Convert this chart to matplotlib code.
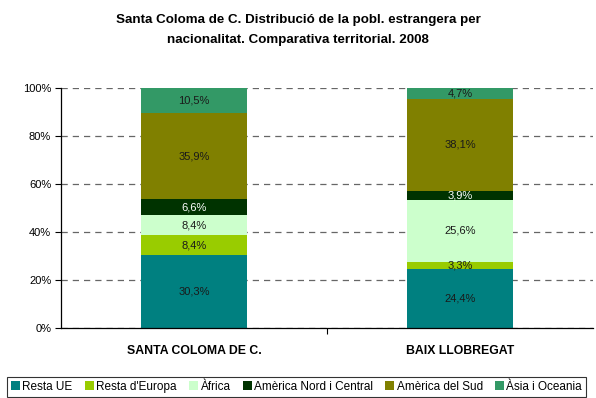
import numpy as np
import matplotlib
matplotlib.use("Agg")
import matplotlib.pyplot as plt
from matplotlib.patches import Patch

plt.rcParams["font.family"] = ["Liberation Sans", "DejaVu Sans"]

# percentatges per nacionalitat
territoris = ["SANTA COLOMA DE C.", "BAIX LLOBREGAT"]
grups = ["Resta UE", "Resta d'Europa", "Àfrica", "Amèrica Nord i Central",
         "Amèrica del Sud", "Àsia i Oceania"]
santa_coloma = [30.3, 8.4, 8.4, 6.6, 35.9, 10.5]
baix_llobregat = [24.4, 3.3, 25.6, 3.9, 38.1, 4.7]
colors = ["#008080", "#99CC00", "#CCFFCC", "#003300", "#808000", "#339966"]
text_colors = ["#1a1a1a", "#1a1a1a", "#1a1a1a", "#ffffff", "#1a1a1a", "#1a1a1a"]

valors = np.array([santa_coloma, baix_llobregat])
# barres al 100%
quota = valors / valors.sum(axis=1, keepdims=True) * 100

fig = plt.figure(figsize=(5.96, 3.98), dpi=100)
ax = fig.add_axes([0.1023, 0.1759, 0.8927, 0.603])

x = np.arange(len(territoris))
base = np.zeros(len(territoris))
for i, grup in enumerate(grups):
    ax.bar(x, quota[:, i], bottom=base, width=0.4, color=colors[i], label=grup,
           zorder=2)
    for j in range(len(territoris)):
        ax.text(x[j], base[j] + quota[j, i] / 2, f"{valors[j, i]:.1f}%".replace(".", ","),
                ha="center", va="center", fontsize=8, color=text_colors[i], zorder=3)
    base += quota[:, i]

ax.set_xlim(-0.5, 1.5)
ax.set_ylim(0, 100)
ax.set_yticks(np.arange(0, 101, 20))
ax.set_yticklabels([f"{v}%" for v in range(0, 101, 20)], fontsize=8)
ax.yaxis.grid(True, ls=(0, (5, 4)), color="#666666", lw=0.9, zorder=0)
ax.set_xticks([0.5], minor=False)
ax.set_xticklabels([])
ax.tick_params(axis="x", length=4, width=0.8, color="black")
ax.tick_params(axis="y", length=4, width=0.8, color="black", pad=3)
for j, t in enumerate(territoris):
    ax.text(x[j], -7.0, t, ha="center", va="top", fontsize=8.8, fontweight="bold",
            transform=ax.transData)
for s in ["top", "right"]:
    ax.spines[s].set_visible(False)
ax.spines["left"].set_linewidth(0.9)
ax.spines["bottom"].set_linewidth(0.9)

fig.text(0.5, 0.950, "Santa Coloma de C. Distribució de la pobl. estrangera per",
         ha="center", va="center", fontsize=9.6, fontweight="bold")
fig.text(0.5, 0.900, "nacionalitat. Comparativa territorial. 2008",
         ha="center", va="center", fontsize=9.6, fontweight="bold")

handles = [Patch(facecolor=c, edgecolor="none") for c in colors]
leg = fig.legend(handles, grups, loc="lower left", bbox_to_anchor=(0.012, 0.003),
                 ncol=6, fontsize=8.5, frameon=True, fancybox=False,
                 handlelength=0.75, handleheight=0.75, handletextpad=0.2,
                 columnspacing=1.05, borderpad=0.35, borderaxespad=0)
leg.get_frame().set_edgecolor("black")
leg.get_frame().set_linewidth(0.8)

fig.savefig("out.png", dpi=100)
